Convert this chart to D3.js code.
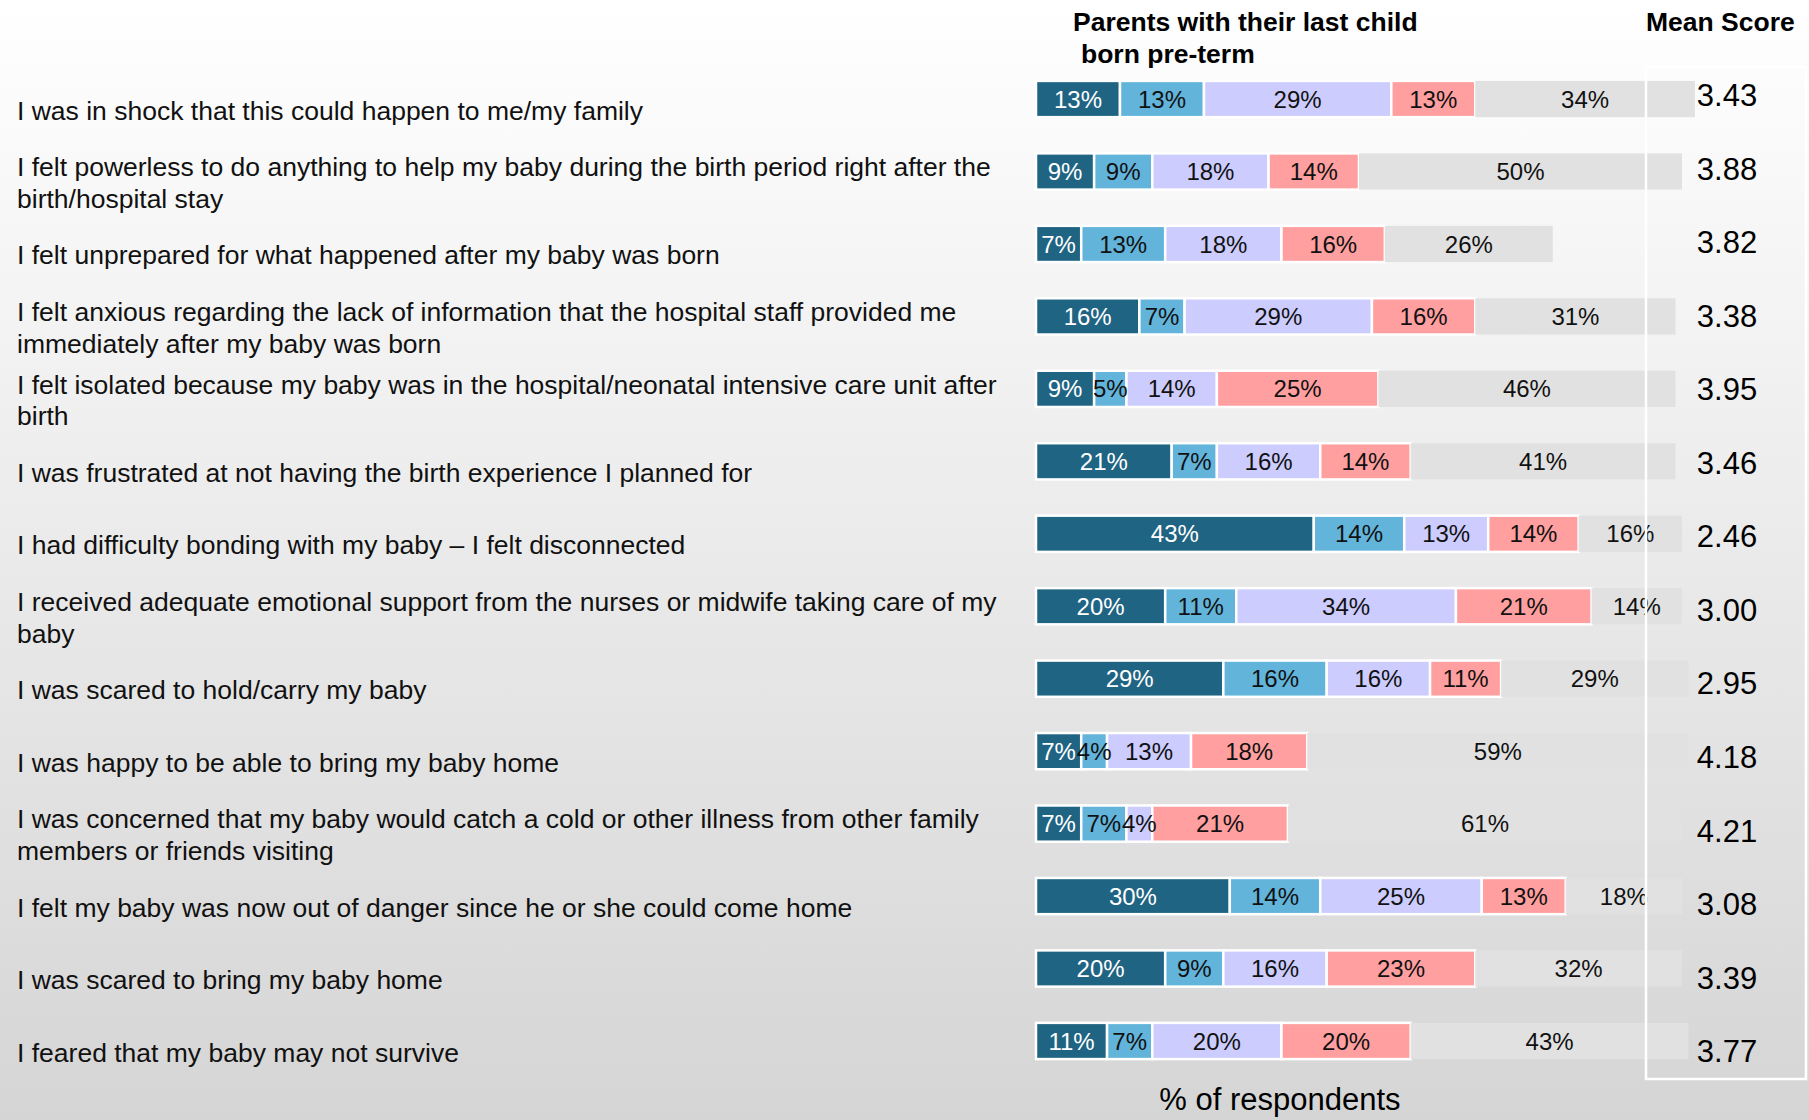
<html>
    <head>
        <style>
        body {
            margin: 0;
            font-family: "Liberation Sans", Arial, sans-serif;
        }
        svg {
            display: block;
        }
        .label {
            font-size: 26.5px;
            fill: #111;
        }
        .head {
            font-size: 26.5px;
            font-weight: bold;
            fill: #000;
        }
        .seg-label {
            font-size: 24px;
        }
        .mean {
            font-size: 31px;
            fill: #000;
        }
        </style>
    </head>
    <body>
        <div id="chart"></div>
        <script src="https://d3js.org/d3.v7.min.js"></script>
        <script>

            // statements, top to bottom
            let statements = [
                "I was in shock that this could happen to me/my family",
                "I felt powerless to do anything to help my baby during the birth period right after the\nbirth/hospital stay",
                "I felt unprepared for what happened after my baby was born",
                "I felt anxious regarding the lack of information that the hospital staff provided me\nimmediately after my baby was born",
                "I felt isolated because my baby was in the hospital/neonatal intensive care unit after\nbirth",
                "I was frustrated at not having the birth experience I planned for",
                "I had difficulty bonding with my baby \u2013 I felt disconnected",
                "I received adequate emotional support from the nurses or midwife taking care of my\nbaby",
                "I was scared to hold/carry my baby",
                "I was happy to be able to bring my baby home",
                "I was concerned that my baby would catch a cold or other illness from other family\nmembers or friends visiting",
                "I felt my baby was now out of danger since he or she could come home",
                "I was scared to bring my baby home",
                "I feared that my baby may not survive"
            ]

            // % of respondents per answer level (1 = left, dark blue ... 5 = right, grey)
            let level1 = [13, 9, 7, 16, 9, 21, 43, 20, 29, 7, 7, 30, 20, 11]
            let level2 = [13, 9, 13, 7, 5, 7, 14, 11, 16, 4, 7, 14, 9, 7]
            let level3 = [29, 18, 18, 29, 14, 16, 13, 34, 16, 13, 4, 25, 16, 20]
            let level4 = [13, 14, 16, 16, 25, 14, 14, 21, 11, 18, 21, 13, 23, 20]
            let level5 = [34, 50, 26, 31, 46, 41, 16, 14, 29, 59, 61, 18, 32, 43]

            let meanScores = ["3.43", "3.88", "3.82", "3.38", "3.95", "3.46", "2.46", "3.00", "2.95", "4.18", "4.21", "3.08", "3.39", "3.77"]

            let keys = ["level1", "level2", "level3", "level4", "level5"]
            let colors = ["#1f6483", "#62b4db", "#ccccfe", "#ff9f9f", "#e1e1e1"]
            let textColors = ["#fff", "#111", "#111", "#111", "#111"]

            let width = 1809
            let height = 1120

            let data = statements.map((s, i) => ({
                row: i,
                label: s,
                level1: level1[i],
                level2: level2[i],
                level3: level3[i],
                level4: level4[i],
                level5: level5[i],
                mean: meanScores[i]
            }))

            let svg = d3.select("#chart")
                .append("svg")
                .attr("width", width)
                .attr("height", height)

            // background gradient
            let grad = svg.append("defs").append("linearGradient")
                .attr("id", "bg")
                .attr("x1", 0).attr("y1", 0).attr("x2", 0).attr("y2", 1)
            grad.append("stop").attr("offset", "0%").attr("stop-color", "#ffffff")
            grad.append("stop").attr("offset", "100%").attr("stop-color", "#d5d5d5")

            svg.append("rect")
                .attr("width", width)
                .attr("height", height)
                .attr("fill", "url(#bg)")

            let x = d3.scaleLinear()
                .domain([0, 100])
                .range([1036, 1682])

            let y = d3.scaleBand()
                .domain(data.map(d => d.row))
                .range([62.8, 1077.2])
                .paddingInner(0.5)
                .paddingOuter(0.25)

            // mean score column drifts a bit lower than the bars
            let yMean = d3.scalePoint()
                .domain(data.map(d => d.row))
                .range([95, 1051])

            let stack = d3.stack().keys(keys)
            let series = stack(data)

            let bars = svg.append("g").attr("class", "bars")

            series.forEach((s, k) => {
                let g = bars.append("g").attr("class", "series " + s.key)

                g.selectAll("rect")
                    .data(s)
                    .join("rect")
                    .attr("x", d => x(d[0]))
                    .attr("y", d => y(d.data.row))
                    .attr("width", d => x(d[1]) - x(d[0]))
                    .attr("height", y.bandwidth())
                    .attr("fill", colors[k])
                    .attr("stroke", k < 4 ? "#fff" : "none")
                    .attr("stroke-width", 2.5)
            })

            // segment labels on top
            series.forEach((s, k) => {
                bars.append("g")
                    .selectAll("text")
                    .data(s)
                    .join("text")
                    .attr("class", "seg-label")
                    .attr("x", d => (x(d[0]) + x(d[1])) / 2)
                    .attr("y", d => y(d.data.row) + y.bandwidth() / 2)
                    .attr("dy", "0.36em")
                    .attr("text-anchor", "middle")
                    .attr("fill", textColors[k])
                    .text(d => (d[1] - d[0]) + "%")
            })

            // statement labels
            let labels = svg.append("g").attr("class", "labels")
            let lineH = 31.5

            data.forEach(d => {
                let lines = d.label.split("\n")
                let cy = y(d.row) + y.bandwidth() / 2 + 11
                let t = labels.append("text")
                    .attr("class", "label")
                    .attr("x", 17)
                    .attr("y", cy - (lines.length - 1) * lineH / 2)
                lines.forEach((l, j) => {
                    t.append("tspan")
                        .attr("x", 17)
                        .attr("dy", j == 0 ? "0.36em" : lineH)
                        .text(l)
                })
            })

            // mean score box
            svg.append("rect")
                .attr("x", 1646)
                .attr("y", 67)
                .attr("width", 160)
                .attr("height", 1012)
                .attr("fill", "none")
                .attr("stroke", "#fff")
                .attr("stroke-width", 2.5)

            svg.append("g")
                .selectAll("text")
                .data(data)
                .join("text")
                .attr("class", "mean")
                .attr("x", 1727)
                .attr("y", d => yMean(d.row))
                .attr("dy", "0.36em")
                .attr("text-anchor", "middle")
                .text(d => d.mean)

            // headings
            svg.append("text")
                .attr("class", "head")
                .attr("x", 1073)
                .attr("y", 21)
                .attr("dy", "0.36em")
                .text("Parents with their last child")

            svg.append("text")
                .attr("class", "head")
                .attr("x", 1081)
                .attr("y", 53)
                .attr("dy", "0.36em")
                .text("born pre-term")

            svg.append("text")
                .attr("class", "head")
                .attr("x", 1646)
                .attr("y", 21)
                .attr("dy", "0.36em")
                .text("Mean Score")

            svg.append("text")
                .attr("class", "mean")
                .attr("x", 1280)
                .attr("y", 1099)
                .attr("dy", "0.36em")
                .attr("text-anchor", "middle")
                .text("% of respondents")

        </script>
    </body>
</html>
